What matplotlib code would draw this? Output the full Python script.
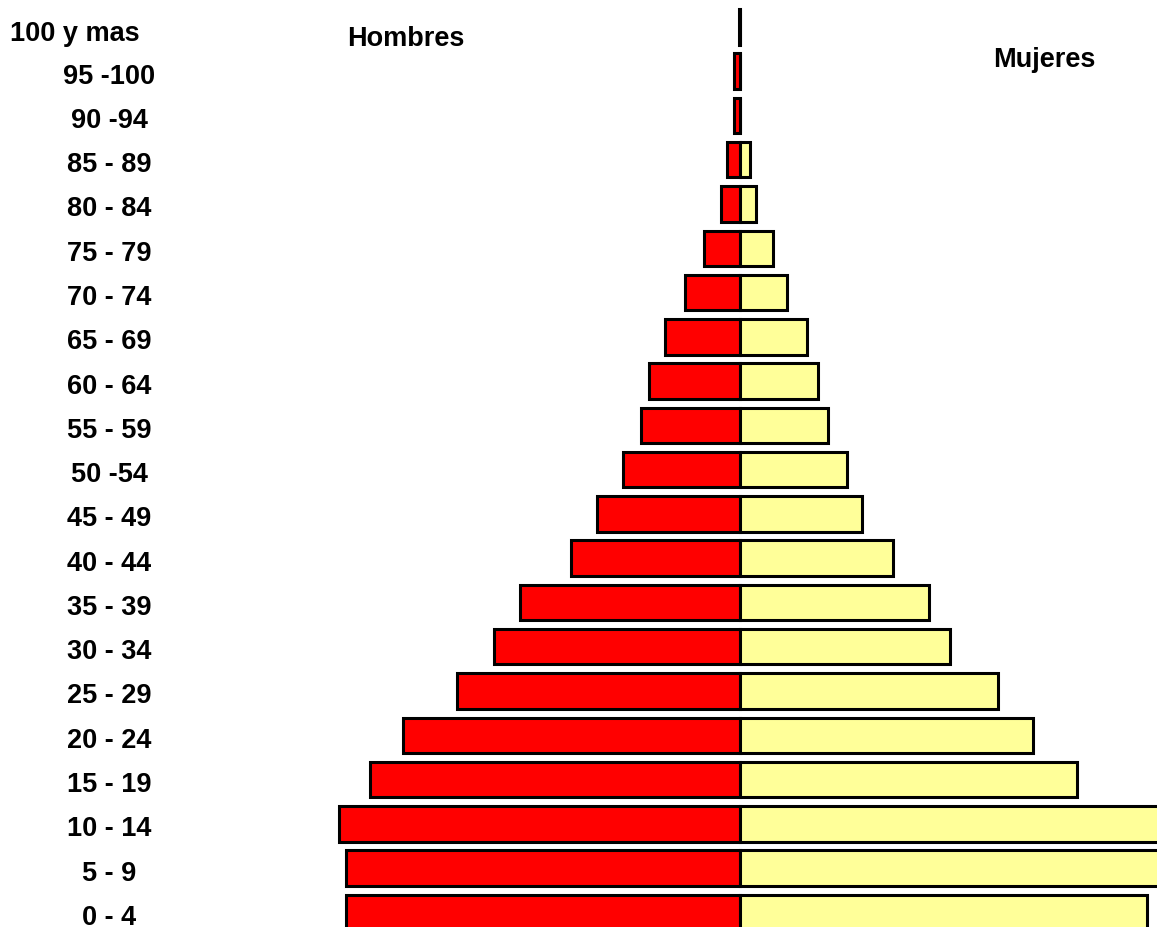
"""
piramide.py
Piramide de poblacion por grupos de edad, hombres a la izquierda y mujeres a la derecha.
"""

import numpy as np
import matplotlib
matplotlib.use('Agg')
import matplotlib.pyplot as plt

# grupos de edad, del mas joven al mas viejo
grupos = ['0 - 4', '5 - 9', '10 - 14', '15 - 19', '20 - 24', '25 - 29', '30 - 34',
          '35 - 39', '40 - 44', '45 - 49', '50 -54', '55 - 59', '60 - 64', '65 - 69',
          '70 - 74', '75 - 79', '80 - 84', '85 - 89', '90 -94', '95 -100', '100 y mas']

# poblacion (miles)
hombres = [394, 394, 401, 370, 337, 283, 246, 220, 169, 143, 117,
           99, 91, 75, 55, 36, 19, 13, 6, 6, 1]
mujeres = [407, 425, 430, 337, 293, 258, 210, 189, 153, 122, 107,
           88, 78, 67, 47, 33, 16, 10, 0, 0, 0]

plt.rcParams['font.family'] = ['Liberation Sans', 'DejaVu Sans']

fig = plt.figure(figsize=(11.57, 9.28), dpi=100)
ax = fig.add_axes([0, 0, 1, 1])

y = np.arange(len(grupos))
h = np.array(hombres)
m = np.array(mujeres)

ax.barh(y, -h, height=0.8, color='#FF0000', edgecolor='black', linewidth=2.2)
ax.barh(y, m, height=0.8, color='#FFFF99', edgecolor='black', linewidth=2.2)

ax.set_xlim(-740, 417)
ax.set_ylim(-0.33, 20.63)
ax.axis('off')

# etiquetas de edad a la izquierda
for i, g in enumerate(grupos):
    if g == '100 y mas':
        ax.text(10 / 1157, i - 0.13, g, transform=ax.get_yaxis_transform(),
                ha='left', va='center', fontsize=19.5, fontweight='bold')
    else:
        ax.text(109 / 1157, i - 0.1, g, transform=ax.get_yaxis_transform(),
                ha='center', va='center', fontsize=19.5, fontweight='bold')

ax.text(406 / 1157, 1 - 39 / 928, 'Hombres', transform=ax.transAxes,
        ha='center', va='center', fontsize=19.5, fontweight='bold')
ax.text(1044 / 1157, 1 - 60 / 928, 'Mujeres', transform=ax.transAxes,
        ha='center', va='center', fontsize=19.5, fontweight='bold')

fig.savefig('out.png', dpi=100)
